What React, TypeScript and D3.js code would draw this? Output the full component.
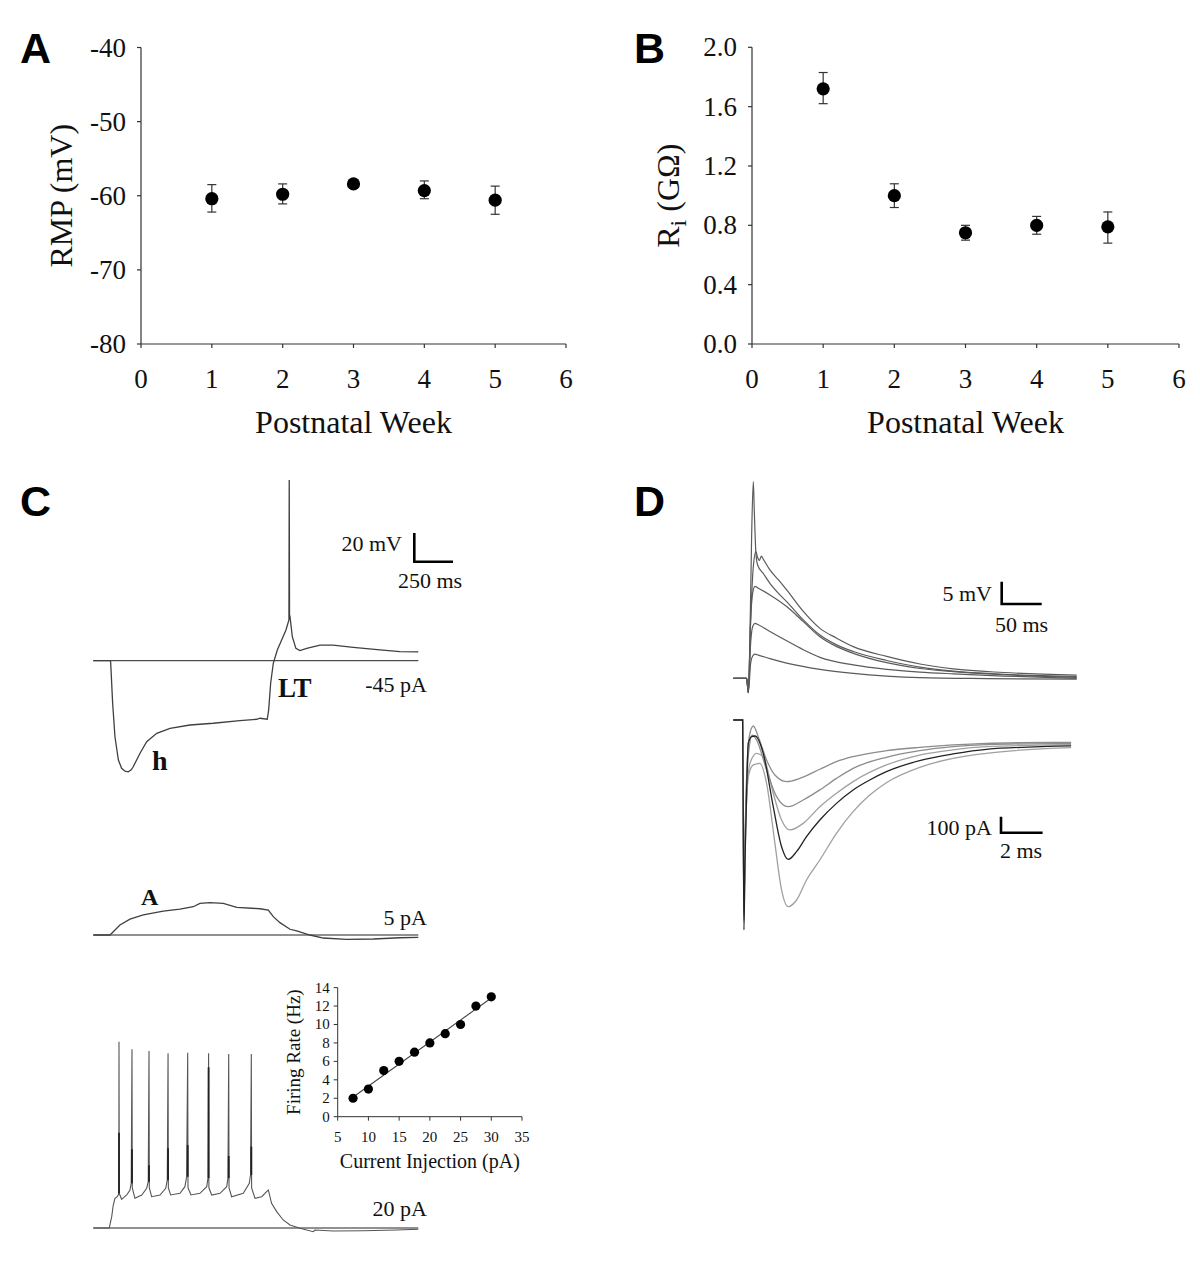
import React from 'react';
import * as d3 from 'd3';

// ---------- Panel A / B data ----------
const weeks = [1, 2, 3, 4, 5];
const weekTicks = [0, 1, 2, 3, 4, 5, 6];
const rmpMean = [-60.4, -59.8, -58.4, -59.3, -60.6];
const rmpUpper = [-58.5, -58.4, -58.1, -58.0, -58.7];
const rmpLower = [-62.2, -61.1, -58.7, -60.4, -62.5];
const rmpTicks = [-40, -50, -60, -70, -80];
const riMean = [1.72, 1.0, 0.75, 0.8, 0.79];
const riUpper = [1.83, 1.08, 0.8, 0.86, 0.89];
const riLower = [1.62, 0.92, 0.7, 0.74, 0.68];
const riTicks = [0, 0.4, 0.8, 1.2, 1.6, 2.0];

// ---------- Panel C traces: [time ms, mV relative to baseline] ----------
const cTopTrace: [number, number][] = [
  [0, 0], [108, 0], [112, -0.7], [125, -29.7], [140, -53.0], [162, -69.2], [183, -75.0], [205, -77.0], [226, -77.4],
  [245, -76.0], [258, -73.9], [302, -64.5], [345, -56.4], [410, -50.6], [496, -47.1], [625, -44.8], [775, -43.6],
  [947, -41.8], [1056, -40.8], [1077, -40.1], [1124, -40.8], [1133, -34.4], [1146, -15.7], [1163, -1.8],
  [1189, 7.5], [1217, 14.4], [1245, 21.4], [1264, 28.4], [1266, 125.9], [1268, 32.0], [1271, 30.7], [1286, 16.7],
  [1309, 8.6], [1335, 7.0], [1379, 8.6], [1465, 10.9], [1550, 10.9], [1680, 9.3], [1852, 7.5],
  [1981, 6.3], [2100, 6.1],
];
const cMidTrace: [number, number][] = [
  [0, 0], [108, 0], [129, 2.3], [172, 7.0], [237, 11.0], [323, 14.0], [452, 16.7], [560, 18.1],
  [646, 19.7], [689, 22.0], [754, 22.5], [840, 22.0], [927, 19.2], [1077, 18.3], [1131, 17.4],
  [1163, 12.8], [1206, 8.6], [1271, 4.0], [1314, 2.8], [1400, 0], [1486, -2.1], [1637, -3.0],
  [1809, -2.8], [1981, -1.9], [2100, -1.6],
];
const cBotTrace: [number, number][] = [
  [0, 0], [103, 0], [119, 7.9], [129, 16.0], [140, 20.7], [155, 21.8], [165, 24.0], [166, 129.8], [168, 24.0], [183, 20.0],
  [216, 23.0], [237, 26.5], [245, 31.2], [250, 124.5], [252, 28.0], [269, 20.7], [313, 23.0], [345, 27.7],
  [355, 32.3], [360, 123.3], [362, 28.0], [377, 21.8], [431, 23.0], [468, 27.7], [478, 33.4], [483, 121.7],
  [485, 28.0], [500, 23.0], [560, 24.2], [592, 28.8], [603, 35.7], [610, 122.2], [612, 28.0], [631, 23.0], [689, 24.2],
  [733, 28.8], [741, 34.8], [745, 121.7], [747, 28.0], [765, 23.0], [819, 24.2], [862, 28.8], [870, 34.8],
  [875, 121.3], [877, 28.0], [894, 21.8], [969, 24.2], [1008, 31.2], [1016, 37.0], [1021, 121.3], [1023, 28.0], [1045, 20.7],
  [1088, 21.8], [1120, 25.3], [1131, 26.5], [1152, 17.2], [1185, 11.4], [1227, 5.6], [1271, 2.1],
  [1336, -0.2], [1421, -2.6], [1432, -1.4], [1550, -2.1], [1744, -1.9], [1960, -1.4], [2100, -0.9],
];
const cSpikeTimes = [166, 250, 360, 483, 610, 745, 875, 1021];
const cSpikeBase = [24.0, 31.2, 32.3, 33.4, 35.7, 34.8, 34.8, 37.0];
const cSpikeDark = [66.4, 54.8, 43.7, 55.5, 57.8, 112.0, 50.2, 56.7];

// inset: firing rate vs current
const injCurrent = [7.5, 10, 12.5, 15, 17.5, 20, 22.5, 25, 27.5, 30];
const firingRate = [2, 3, 5, 6, 7, 8, 9, 10, 12, 13];
const insetXTicks = [5, 10, 15, 20, 25, 30, 35];
const insetYTicks = [0, 2, 4, 6, 8, 10, 12, 14];

// ---------- Panel D top: [ms, mV] ----------
const dTopA: [number, number][] = [
  [0, 0], [16.7, 0], [18.75, -3.2], [20.8, 9.3], [22.9, 31.8], [25, 44.1], [26.25, 37.4], [28.3, 28.0],
  [30.4, 25.4], [37.5, 23.5], [45.8, 21.3], [56.25, 19.1], [66.7, 17.2], [87.5, 13.1], [108.3, 9.7],
  [129.2, 7.5], [150, 6.0], [191.7, 4.0], [233.3, 2.5], [275, 1.6], [337.5, 0.9], [429.2, 0.4],
];
const dTopB: [number, number][] = [
  [0, 0], [16.7, 0], [18.75, -3.2], [21.7, 13.1], [25, 25.0], [28.3, 28.4], [30.4, 27.1], [32.5, 26.4],
  [35, 27.4], [37.5, 26.7], [45.8, 24.3], [56.25, 22.1], [66.7, 19.8], [87.5, 15.0], [108.3, 11.2],
  [129.2, 9.0], [150, 7.1], [191.7, 4.9], [233.3, 3.2], [275, 2.1], [337.5, 1.3], [429.2, 0.7],
];
const dTopC: [number, number][] = [
  [0, 0], [16.7, 0], [18.75, -3.2], [21.7, 13.1], [24.2, 19.1], [27.1, 20.6], [31.25, 20.2], [45.8, 18.7],
  [66.7, 16.1], [87.5, 12.7], [108.3, 9.3], [129.2, 7.1], [150, 5.6], [191.7, 3.5], [233.3, 2.2],
  [275, 1.5], [337.5, 0.8], [429.2, 0.2],
];
const dTopD: [number, number][] = [
  [0, 0], [16.7, 0], [18.75, -3.2], [21.7, 7.9], [24.2, 11.6], [27.1, 12.3], [31.25, 12.0], [45.8, 10.5],
  [66.7, 8.4], [87.5, 6.4], [108.3, 4.7], [150, 3.0], [191.7, 2.0], [233.3, 1.4], [275, 1.0],
  [337.5, 0.5], [429.2, 0],
];
const dTopE: [number, number][] = [
  [0, 0], [16.7, 0], [18.75, -3.2], [21.7, 3.4], [24.2, 5.0], [27.1, 5.4], [31.25, 5.2], [45.8, 4.4],
  [66.7, 3.4], [108.3, 2.0], [150, 1.1], [191.7, 0.5], [233.3, 0.15], [316.7, -0.07], [429.2, -0.2],
];

// ---------- Panel D bottom: [ms, pA] ----------
const dBot1: [number, number][] = [
  [0, 0], [0.448, 0], [0.48, -562], [0.512, -1187], [0.56, -771], [0.64, -354], [0.768, -104], [0.96, -37.5],
  [1.2, -104], [1.6, -250], [2.0, -344], [2.56, -385], [3.2, -365], [4.16, -308], [4.96, -260], [5.76, -229],
  [7.36, -192], [8.96, -171], [10.56, -156], [12.16, -146], [13.76, -142], [16.24, -140],
];
const dBot2: [number, number][] = [
  [0, 0], [0.448, 0], [0.48, -600], [0.512, -1220], [0.56, -800], [0.64, -400], [0.768, -167], [0.912, -94],
  [1.12, -125], [1.6, -312], [2.08, -479], [2.64, -542], [3.36, -500], [4.16, -437], [4.96, -365], [5.76, -302],
  [7.36, -233], [8.96, -192], [10.56, -167], [12.16, -154], [16.24, -146],
];
const dBot3: [number, number][] = [
  [0, 0], [0.448, 0], [0.48, -620], [0.512, -1250], [0.56, -900], [0.64, -500], [0.8, -271], [1.12, -208],
  [1.44, -229], [1.92, -458], [2.32, -625], [2.72, -687], [3.36, -646], [4.16, -542], [4.96, -458], [5.76, -385],
  [7.36, -281], [8.96, -219], [10.56, -187], [12.16, -167], [16.24, -154],
];
const dBot4: [number, number][] = [
  [0, 0], [0.448, 0], [0.48, -650], [0.512, -1312], [0.56, -900], [0.64, -450], [0.72, -146], [0.88, -104],
  [1.04, -100], [1.44, -208], [1.92, -542], [2.32, -792], [2.64, -871], [3.04, -823], [3.52, -729], [4.16, -625],
  [4.96, -521], [5.76, -437], [6.56, -375], [7.36, -323], [8.96, -254], [10.56, -212], [12.16, -183], [16.24, -162],
];
const dBot5: [number, number][] = [
  [0, 0], [0.448, 0], [0.48, -600], [0.512, -1200], [0.56, -800], [0.64, -500], [0.72, -354], [0.96, -281],
  [1.28, -271], [1.6, -396], [2.0, -771], [2.32, -1062], [2.64, -1167], [3.04, -1125], [3.52, -1000], [4.16, -875],
  [4.96, -708], [5.76, -573], [6.56, -469], [7.36, -392], [8.96, -296], [10.56, -240], [12.16, -208], [16.24, -173],
];

const serif = "'Liberation Serif','Times New Roman',serif";
const sans = "'Liberation Sans',Arial,sans-serif";
const axisColor = '#333';

function ScatterPanel(props: {
  x0: number; x1: number; yTop: number; yBot: number; domain: [number, number];
  ticks: number[]; fmt: (v: number) => string; mean: number[]; up: number[]; lo: number[];
  ylabel: React.ReactNode; ylabelX: number;
}) {
  const { x0, x1, yTop, yBot, domain, ticks, fmt, mean, up, lo, ylabel, ylabelX } = props;
  const x = d3.scaleLinear().domain([0, 6]).range([x0, x1]);
  const y = d3.scaleLinear().domain(domain).range([yBot, yTop]);
  return (
    <g>
      <line x1={x0} x2={x0} y1={yTop} y2={yBot} stroke={axisColor} strokeWidth={1.2} />
      <line x1={x0} x2={x1} y1={yBot} y2={yBot} stroke={axisColor} strokeWidth={1.2} />
      {ticks.map((t) => (
        <g key={'y' + t}>
          <line x1={x0 - 4} x2={x0} y1={y(t)} y2={y(t)} stroke={axisColor} strokeWidth={1.2} />
          <text x={x0 - 15} y={y(t) + 9} textAnchor="end" fontFamily={serif} fontSize={27} fill="#111">{fmt(t)}</text>
        </g>
      ))}
      {weekTicks.map((t) => (
        <g key={'x' + t}>
          <line x1={x(t)} x2={x(t)} y1={yBot} y2={yBot + 4} stroke={axisColor} strokeWidth={1.2} />
          <text x={x(t)} y={388} textAnchor="middle" fontFamily={serif} fontSize={27} fill="#111">{t}</text>
        </g>
      ))}
      <text x={(x0 + x1) / 2} y={433} textAnchor="middle" fontFamily={serif} fontSize={32} fill="#111">Postnatal Week</text>
      <text transform={`translate(${ylabelX},${(yTop + yBot) / 2}) rotate(-90)`} textAnchor="middle" fontFamily={serif} fontSize={32} fill="#111">{ylabel}</text>
      {weeks.map((w, i) => (
        <g key={'p' + w}>
          <line x1={x(w)} x2={x(w)} y1={y(up[i])} y2={y(lo[i])} stroke={axisColor} strokeWidth={1.2} />
          <line x1={x(w) - 4.5} x2={x(w) + 4.5} y1={y(up[i])} y2={y(up[i])} stroke={axisColor} strokeWidth={1.2} />
          <line x1={x(w) - 4.5} x2={x(w) + 4.5} y1={y(lo[i])} y2={y(lo[i])} stroke={axisColor} strokeWidth={1.2} />
          <circle cx={x(w)} cy={y(mean[i])} r={6.6} fill="#000" />
        </g>
      ))}
    </g>
  );
}

function ScaleBar({ x, y, h, w, color = '#000' }: { x: number; y: number; h: number; w: number; color?: string }) {
  return <path d={`M${x},${y} L${x},${y + h} L${x + w},${y + h}`} fill="none" stroke={color} strokeWidth={2.6} />;
}

export default function App() {
  // Panel C scales
  const xC = d3.scaleLinear().domain([0, 2100]).range([93.3, 418.3]);
  const mvPx = 1.435;
  const yCTop = d3.scaleLinear().domain([0, 20]).range([660.7, 660.7 - 20 * mvPx]);
  const yCMid = d3.scaleLinear().domain([0, 20]).range([935, 935 - 20 * mvPx]);
  const yCBot = d3.scaleLinear().domain([0, 20]).range([1228, 1228 - 20 * mvPx]);
  const lineOf = (ys: d3.ScaleLinear<number, number>) =>
    d3.line<[number, number]>().x((d) => xC(d[0])).y((d) => ys(d[1]));

  // inset
  const xI = d3.scaleLinear().domain([5, 35]).range([337.7, 522]);
  const yI = d3.scaleLinear().domain([0, 14]).range([1116.7, 987.6]);
  const mx = d3.mean(injCurrent)!;
  const my = d3.mean(firingRate)!;
  const slope =
    d3.sum(injCurrent.map((v, i) => (v - mx) * (firingRate[i] - my))) /
    d3.sum(injCurrent.map((v) => (v - mx) * (v - mx)));
  const icpt = my - slope * mx;
  const fitX = [d3.min(injCurrent)! - 0.2, d3.max(injCurrent)!];

  // Panel D scales
  const xDt = d3.scaleLinear().domain([0, 429.2]).range([733.3, 1076.7]);
  const yDt = d3.scaleLinear().domain([0, 5]).range([678.3, 678.3 - 22.3]);
  const xDb = d3.scaleLinear().domain([0, 16.24]).range([733.3, 733.3 + 16.24 * 20.8]);
  const yDb = d3.scaleLinear().domain([0, -100]).range([720, 736]);
  const lineDt = d3.line<[number, number]>().x((d) => xDt(d[0])).y((d) => yDt(d[1])).curve(d3.curveMonotoneX);
  const lineDb = d3.line<[number, number]>().x((d) => xDb(d[0])).y((d) => yDb(d[1])).curve(d3.curveMonotoneX);

  const traceColor = '#404040';

  return (
    <svg width={1200} height={1261} style={{ position: 'absolute', left: 0, top: 0, background: '#fff' }}>
      <rect x={0} y={0} width={1200} height={1261} fill="#fff" />
      {/* Panel letters */}
      <text x={20} y={63} fontFamily={sans} fontWeight="bold" fontSize={43} fill="#000">A</text>
      <text x={634} y={63} fontFamily={sans} fontWeight="bold" fontSize={43} fill="#000">B</text>
      <text x={20} y={516} fontFamily={sans} fontWeight="bold" fontSize={43} fill="#000">C</text>
      <text x={634} y={516} fontFamily={sans} fontWeight="bold" fontSize={43} fill="#000">D</text>

      <ScatterPanel x0={141} x1={566} yTop={47.5} yBot={344} domain={[-80, -40]} ticks={rmpTicks}
        fmt={(v) => String(v)} mean={rmpMean} up={rmpUpper} lo={rmpLower} ylabel="RMP (mV)" ylabelX={72} />
      <ScatterPanel x0={752} x1={1179} yTop={47.3} yBot={344} domain={[0, 2]} ticks={riTicks}
        fmt={(v) => v.toFixed(1)} mean={riMean} up={riUpper} lo={riLower}
        ylabel={<><tspan>R</tspan><tspan fontSize={24} dy={7}>i</tspan><tspan dy={-7}> (GΩ)</tspan></>} ylabelX={679} />

      {/* Panel C: traces */}
      <line x1={93.3} x2={418.3} y1={660.7} y2={660.7} stroke="#222" strokeWidth={1} />
      <path d={lineOf(yCTop)(cTopTrace)!} fill="none" stroke={traceColor} strokeWidth={1.3} />
      <ScaleBar x={414.3} y={533} h={20 * mvPx} w={xC(250) - xC(0)} />
      <text x={402} y={551} textAnchor="end" fontFamily={serif} fontSize={22} fill="#111">20 mV</text>
      <text x={398} y={588} fontFamily={serif} fontSize={22} fill="#111">250 ms</text>
      <text x={427} y={692} textAnchor="end" fontFamily={serif} fontSize={22} fill="#111">-45 pA</text>
      <text x={278} y={697} fontFamily={serif} fontWeight="bold" fontSize={27} fill="#111">LT</text>
      <text x={152} y={770} fontFamily={serif} fontWeight="bold" fontSize={28} fill="#111">h</text>

      <line x1={93.3} x2={418.3} y1={935} y2={935} stroke="#222" strokeWidth={1} />
      <path d={lineOf(yCMid)(cMidTrace)!} fill="none" stroke={traceColor} strokeWidth={1.3} />
      <text x={141} y={905} fontFamily={serif} fontWeight="bold" fontSize={24} fill="#111">A</text>
      <text x={427} y={925} textAnchor="end" fontFamily={serif} fontSize={22} fill="#111">5 pA</text>

      <line x1={93.3} x2={418.3} y1={1228} y2={1228} stroke="#222" strokeWidth={1} />
      <path d={lineOf(yCBot)(cBotTrace)!} fill="none" stroke="#555" strokeWidth={1.1} />
      {cSpikeTimes.map((t, i) => (
        <line key={'sp' + i} x1={xC(t)} x2={xC(t)} y1={yCBot(cSpikeBase[i])} y2={yCBot(cSpikeDark[i])} stroke="#222" strokeWidth={1.8} />
      ))}
      <text x={427} y={1216} textAnchor="end" fontFamily={serif} fontSize={22} fill="#111">20 pA</text>

      {/* Inset */}
      <line x1={xI(5)} x2={xI(5)} y1={yI(0)} y2={yI(14)} stroke={axisColor} strokeWidth={1} />
      <line x1={xI(5)} x2={xI(35)} y1={yI(0)} y2={yI(0)} stroke={axisColor} strokeWidth={1} />
      {insetYTicks.map((t) => (
        <g key={'iy' + t}>
          <line x1={xI(5) - 4} x2={xI(5)} y1={yI(t)} y2={yI(t)} stroke={axisColor} strokeWidth={1} />
          <text x={xI(5) - 8} y={yI(t) + 5} textAnchor="end" fontFamily={serif} fontSize={15} fill="#111">{t}</text>
        </g>
      ))}
      {insetXTicks.map((t) => (
        <g key={'ix' + t}>
          <line x1={xI(t)} x2={xI(t)} y1={yI(0)} y2={yI(0) + 4} stroke={axisColor} strokeWidth={1} />
          <text x={xI(t)} y={1142} textAnchor="middle" fontFamily={serif} fontSize={15} fill="#111">{t}</text>
        </g>
      ))}
      <text transform={`translate(300,${(yI(0) + yI(14)) / 2}) rotate(-90)`} textAnchor="middle" fontFamily={serif} fontSize={19} fill="#111">Firing Rate (Hz)</text>
      <text x={(xI(5) + xI(35)) / 2} y={1168} textAnchor="middle" fontFamily={serif} fontSize={20} fill="#111">Current Injection (pA)</text>
      <line x1={xI(fitX[0])} x2={xI(fitX[1])} y1={yI(icpt + slope * fitX[0])} y2={yI(icpt + slope * fitX[1])} stroke="#444" strokeWidth={1.1} />
      {injCurrent.map((c, i) => (
        <circle key={'ic' + i} cx={xI(c)} cy={yI(firingRate[i])} r={4.6} fill="#000" />
      ))}

      {/* Panel D top */}
      {[dTopE, dTopD, dTopC, dTopB, dTopA].map((tr, i) => (
        <path key={'dt' + i} d={lineDt(tr)!} fill="none" stroke="#5a5a5a" strokeWidth={1.2} />
      ))}
      <ScaleBar x={1001.7} y={581.7} h={yDt(0) - yDt(5)} w={xDt(50) - xDt(0)} />
      <text x={992} y={601} textAnchor="end" fontFamily={serif} fontSize={22} fill="#111">5 mV</text>
      <text x={995} y={632} fontFamily={serif} fontSize={22} fill="#111">50 ms</text>

      {/* Panel D bottom */}
      {[
        { d: dBot5, c: '#a0a0a0' },
        { d: dBot3, c: '#a0a0a0' },
        { d: dBot2, c: '#8c8c8c' },
        { d: dBot1, c: '#8c8c8c' },
        { d: dBot4, c: '#222' },
      ].map((tr, i) => (
        <path key={'db' + i} d={lineDb(tr.d)!} fill="none" stroke={tr.c} strokeWidth={1.3} />
      ))}
      <ScaleBar x={1001} y={816.7} h={yDb(-100) - yDb(0)} w={xDb(2) - xDb(0)} />
      <text x={992} y={835} textAnchor="end" fontFamily={serif} fontSize={22} fill="#111">100 pA</text>
      <text x={1000} y={858} fontFamily={serif} fontSize={22} fill="#111">2 ms</text>
    </svg>
  );
}
